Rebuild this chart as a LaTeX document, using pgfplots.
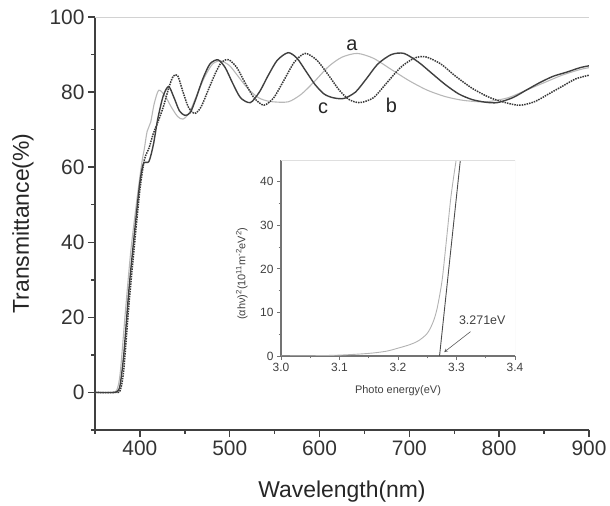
\documentclass[border=0pt]{standalone}
\usepackage{pgfplots}
\pgfplotsset{compat=1.18}
\usepackage{fontspec}
\setmainfont{Liberation Sans}
\definecolor{ca}{gray}{0.72}
\definecolor{cb}{gray}{0.22}
\definecolor{cc}{gray}{0.25}
\begin{document}
\begin{tikzpicture}
\begin{axis}[
  name=main, at={(0,0)}, anchor=south west,
  scale only axis, width=494bp, height=413bp,
  xmin=350, xmax=900, ymin=-10, ymax=100,
  xtick={400,500,...,900}, minor xtick={350,450,...,850},
  ytick={0,20,...,100}, minor ytick={-10,10,30,50,70,90},
  tick align=outside,
  axis x line*=bottom, axis y line*=left,
  axis line style={-, line width=1.8bp, black!75},
  major tick length=7bp, minor tick length=3.5bp,
  every tick/.style={black!75, line width=1.5bp},
  /pgf/number format/assume math mode=true,
  tick label style={font=\fontsize{21}{24}\selectfont, text=black!80},
  label style={font=\fontsize{23}{26}\selectfont, text=black!85},
  xlabel={Wavelength(nm)}, ylabel={Transmittance(\%)},
  xlabel style={at={(rel axis cs:0.5,-0.150)}, anchor=center},
  ylabel style={at={(rel axis cs:-0.1457,0.5)}, anchor=center},
  clip=true,
]
% curve a (light gray)
\addplot[ca, line width=1.1bp, smooth, tension=0.45] coordinates {
(350,0)(368,0)(374,0.5)(378,5)(384,22)(390,38)(397,52)(402,61)(405,65)(408,69.5)(412,72)(416,77)(421,80.5)(428,79)(435,76)(442,73.5)(448,72.8)(455,74.5)(463,79)(472,84)(481,87.5)(490,88.3)(500,87)(510,84)(520,81)(532,78.5)(545,77.5)(565,77.4)(580,79.5)(595,83)(610,86.8)(625,89.3)(642,90.3)(660,89)(680,86)(700,83)(720,80.5)(740,78.8)(760,77.8)(785,77.4)(810,78.5)(830,80.5)(850,82.5)(870,84.5)(890,86)(900,86.5)
};
% curve b (dotted)
\addplot[cb, line width=1.5bp, densely dotted, smooth, tension=0.45] coordinates {
(350,0)(372,0)(378,0.5)(382,6)(388,24)(395,42)(400,54)(405,62)(410,65)(415,69)(420,72)(426,76)(432,81)(437,84.2)(442,84.4)(448,80)(454,76)(461,74.3)(468,76)(476,80.5)(484,85)(491,88)(499,88.6)(508,86.5)(517,82.5)(527,78.5)(538,76.5)(549,78.5)(560,83)(572,88)(584,90.3)(597,88.5)(610,84.5)(622,80.5)(633,78)(645,77.2)(660,78.5)(675,82.5)(690,86.5)(705,89)(718,89.4)(735,87.5)(750,84.5)(770,81)(790,78.5)(810,77)(824,76.5)(840,77.5)(855,79.5)(870,81.5)(885,83.5)(900,84.5)
};
% curve c (dark solid)
\addplot[cc, line width=1.4bp, smooth, tension=0.45] coordinates {
(350,0)(370,0)(375,0.3)(378,2)(382,10)(388,28)(395,45)(400,56)(404,61)(410,61.5)(415,66)(420,73)(426,79)(432,81.5)(438,78.5)(444,75)(450,73.8)(456,74.5)(462,78)(470,83.5)(478,87.5)(487,88.6)(495,86.5)(503,82.5)(512,78.5)(523,77.2)(533,80)(543,84.5)(553,88.5)(565,90.5)(575,89)(585,85.5)(595,82)(605,79.5)(615,78.5)(627,78.3)(640,80)(652,83.5)(665,87.5)(680,90)(694,90.3)(710,88)(725,85)(740,82)(755,79.5)(770,78)(785,77.3)(798,77.2)(815,78.5)(830,80.5)(845,82.5)(860,84.2)(875,85.3)(890,86.5)(900,87)
};
\draw[gray!35, line width=0.8bp] (rel axis cs:0,1) -- (rel axis cs:1,1) -- (rel axis cs:1,0);
\node[font=\fontsize{20}{22}\selectfont, text=black!85] at (axis cs:636,92.6) {a};
\node[font=\fontsize{20}{22}\selectfont, text=black!85] at (axis cs:680,76.4) {b};
\node[font=\fontsize{20}{22}\selectfont, text=black!85] at (axis cs:604,75.6) {c};
\end{axis}

\begin{axis}[
  name=inset, at={(186bp,74bp)}, anchor=south west,
  scale only axis, width=234bp, height=196bp,
  xmin=3.0, xmax=3.4, ymin=0, ymax=45,
  xtick={3.0,3.1,3.2,3.3,3.4}, minor xtick={3.05,3.15,3.25,3.35},
  ytick={0,10,20,30,40}, minor ytick={5,15,25,35},
  xticklabel style={/pgf/number format/.cd, fixed, fixed zerofill, precision=1},
  tick align=outside,
  axis x line*=bottom, axis y line*=left,
  axis line style={-, line width=1.3bp, black!55},
  major tick length=4bp, minor tick length=2.5bp,
  every tick/.style={black!55, line width=0.9bp},
  /pgf/number format/assume math mode=true,
  tick label style={font=\fontsize{12}{14}\selectfont, text=black!75},
  label style={font=\fontsize{11}{13}\selectfont, text=black!75},
  xlabel={Photo energy(eV)},
  ylabel={(αhν)\textsuperscript{2}(10\textsuperscript{11}m\textsuperscript{-2}eV\textsuperscript{2})},
  xlabel style={at={(rel axis cs:0.5,-0.179)}, anchor=center},
  ylabel style={at={(rel axis cs:-0.167,0.42)}, anchor=center},
  clip=true,
]
\addplot[gray!60, line width=0.9bp, smooth, tension=0.5] coordinates {
(3.0,0)(3.05,0.05)(3.1,0.2)(3.15,0.6)(3.18,1.1)(3.2,1.8)(3.22,2.6)(3.235,3.5)(3.25,5.2)(3.26,7.8)(3.267,11)(3.275,17)(3.28,23)(3.285,29.5)(3.29,36)(3.295,41)(3.30,45.5)
};
\addplot[black!70, line width=0.9bp] coordinates {(3.271,0)(3.3066,45)};
\draw[gray!25, line width=0.6bp] (rel axis cs:0,1) -- (rel axis cs:1,1) -- (rel axis cs:1,0);
\draw[->, >=stealth, black!65, line width=0.6bp] (axis cs:3.324,5.6) -- (axis cs:3.279,0.9);
\node[font=\fontsize{12.5}{14}\selectfont, text=black!75] at (axis cs:3.344,8.2) {3.271eV};
\end{axis}
\pgfresetboundingbox
\path[use as bounding box] (-95bp,-76bp) rectangle (515bp,430bp);
\end{tikzpicture}
\end{document}
